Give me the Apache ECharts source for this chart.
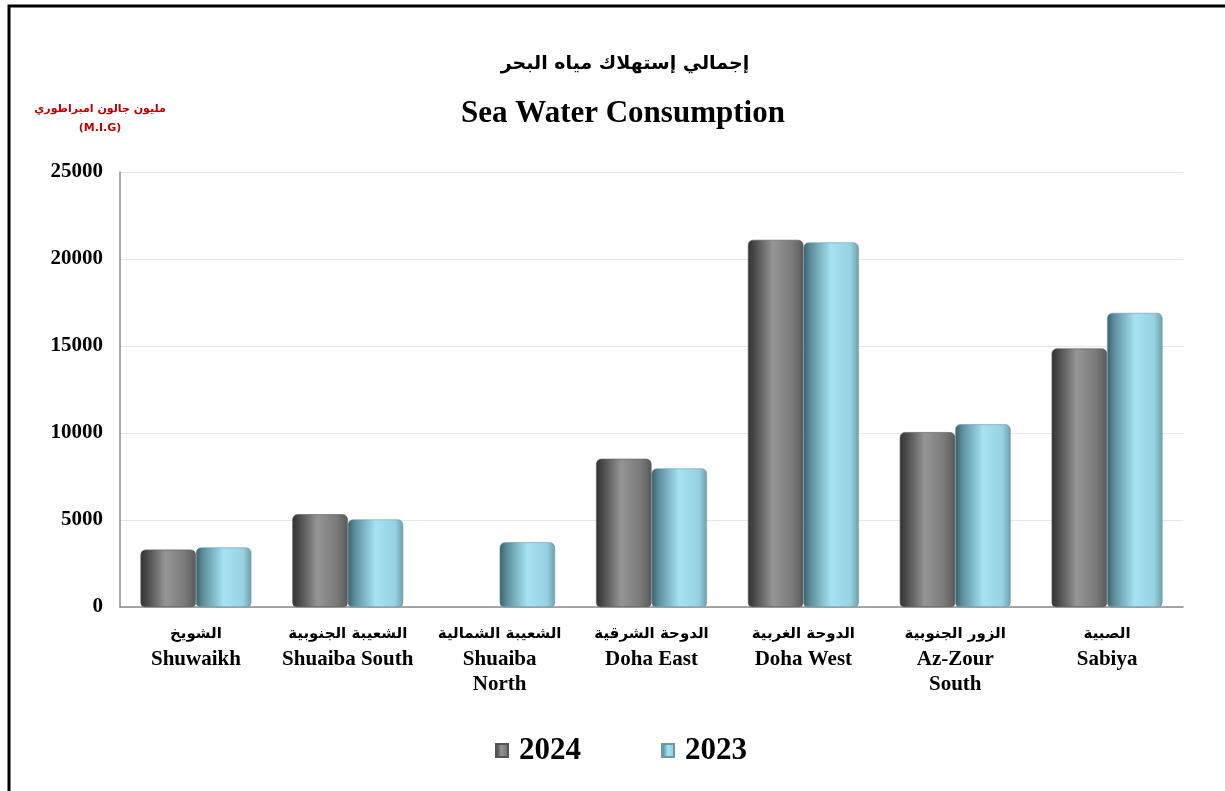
<!DOCTYPE html>
<html><head><meta charset="utf-8">
<script src="https://cdn.jsdelivr.net/npm/echarts@6/dist/echarts.min.js"></script>
<style>html,body{margin:0;padding:0;background:#fff}#c{width:1225px;height:791px}</style>
</head><body><div id="c"></div>
<script>
const categoriesAr = ['الشويخ','الشعيبة الجنوبية','الشعيبة الشمالية','الدوحة الشرقية','الدوحة الغربية','الزور الجنوبية','الصبية'];
const categoriesEn = ['Shuwaikh','Shuaiba South','Shuaiba\nNorth','Doha East','Doha West','Az-Zour\nSouth','Sabiya'];
const values2024 = [3300, 5330, null, 8520, 21100, 10050, 14860];
const values2023 = [3420, 5030, 3720, 7960, 20950, 10500, 16900];
const yTicks = [0, 5000, 10000, 15000, 20000, 25000];

const serif = '"Liberation Serif","Times New Roman",serif';
const arFont = '"DejaVu Sans","Liberation Sans",sans-serif';

const grayGrad = {type:'linear',x:0,y:0,x2:1,y2:0,colorStops:[
  {offset:0,color:'#333333'},{offset:0.12,color:'#4a4a4a'},{offset:0.45,color:'#959595'},{offset:0.8,color:'#7a7a7a'},{offset:1,color:'#5a5a5a'}]};
const blueGrad = {type:'linear',x:0,y:0,x2:1,y2:0,colorStops:[
  {offset:0,color:'#3b5e69'},{offset:0.12,color:'#5a8c9b'},{offset:0.5,color:'#a6e2f2'},{offset:0.85,color:'#98d2e2'},{offset:1,color:'#6f9fae'}]};

const chart = echarts.init(document.getElementById('c'));
chart.setOption({
  animation:false,
  backgroundColor:'#fff',
  graphic:[{type:'rect',shape:{x:9,y:6,width:1400,height:1000},style:{fill:'none',stroke:'#000',lineWidth:3}}],
  title:[
    {text:'إجمالي إستهلاك مياه البحر',left:620,textAlign:'center',top:50,textStyle:{fontFamily:arFont,fontSize:19,fontWeight:'bold',color:'#000'}},
    {text:'Sea Water Consumption',left:618,textAlign:'center',top:93,textStyle:{fontFamily:serif,fontSize:31,fontWeight:'bold',color:'#000'}}
  ],
  legend:{
    bottom:20,left:490,itemGap:80,itemWidth:12,itemHeight:13,icon:'rect',
    data:['2024','2023'],
    textStyle:{fontFamily:serif,fontSize:31,fontWeight:'bold',color:'#000',padding:[0,0,0,6]}
  },
  grid:{left:120,right:42,top:172,bottom:184,containLabel:false},
  xAxis:{
    type:'category',
    data:categoriesEn.map((e,i)=>categoriesAr[i]+'|'+e),
    axisLine:{lineStyle:{color:'#8c8c8c',width:1.5}},
    axisTick:{show:false},
    axisLabel:{
      interval:0,margin:14,
      formatter:function(v){const p=v.split('|');return '{ar|'+p[0]+'}\n{en|'+p[1].split('\n').join('}\n{en|')+'}';},
      rich:{
        ar:{fontFamily:arFont,fontSize:15,fontWeight:'bold',color:'#000',lineHeight:26},
        en:{fontFamily:serif,fontSize:21,fontWeight:'bold',color:'#000',lineHeight:25}
      }
    }
  },
  yAxis:{
    type:'value',min:0,max:25000,interval:5000,
    name:'مليون جالون امبراطوري\n(M.I.G)',
    nameLocation:'end',nameGap:0,
    nameTextStyle:{color:'#c00000',fontFamily:arFont,fontSize:11,fontWeight:'bold',align:'center',lineHeight:19,padding:[0,0,24,-40]},
    axisLine:{show:true,lineStyle:{color:'#8c8c8c',width:1.5}},
    axisTick:{show:false},
    splitLine:{lineStyle:{color:'#e6e6e6',width:1.2}},
    axisLabel:{margin:17,fontFamily:serif,fontSize:21,fontWeight:'bold',color:'#000',
      formatter:function(v){return yTicks.indexOf(v)>=0?String(v):'';}}
  },
  series:[
    {name:'2024',type:'bar',data:values2024,barGap:'0%',barCategoryGap:'27%',
      itemStyle:{color:grayGrad,borderRadius:[5,5,4,4],borderColor:'#555',borderWidth:0.6}},
    {name:'2023',type:'bar',data:values2023,barGap:'0%',barCategoryGap:'27%',
      itemStyle:{color:blueGrad,borderRadius:[5,5,4,4],borderColor:'#6a9aa8',borderWidth:0.6}}
  ]
});
</script></body></html>
